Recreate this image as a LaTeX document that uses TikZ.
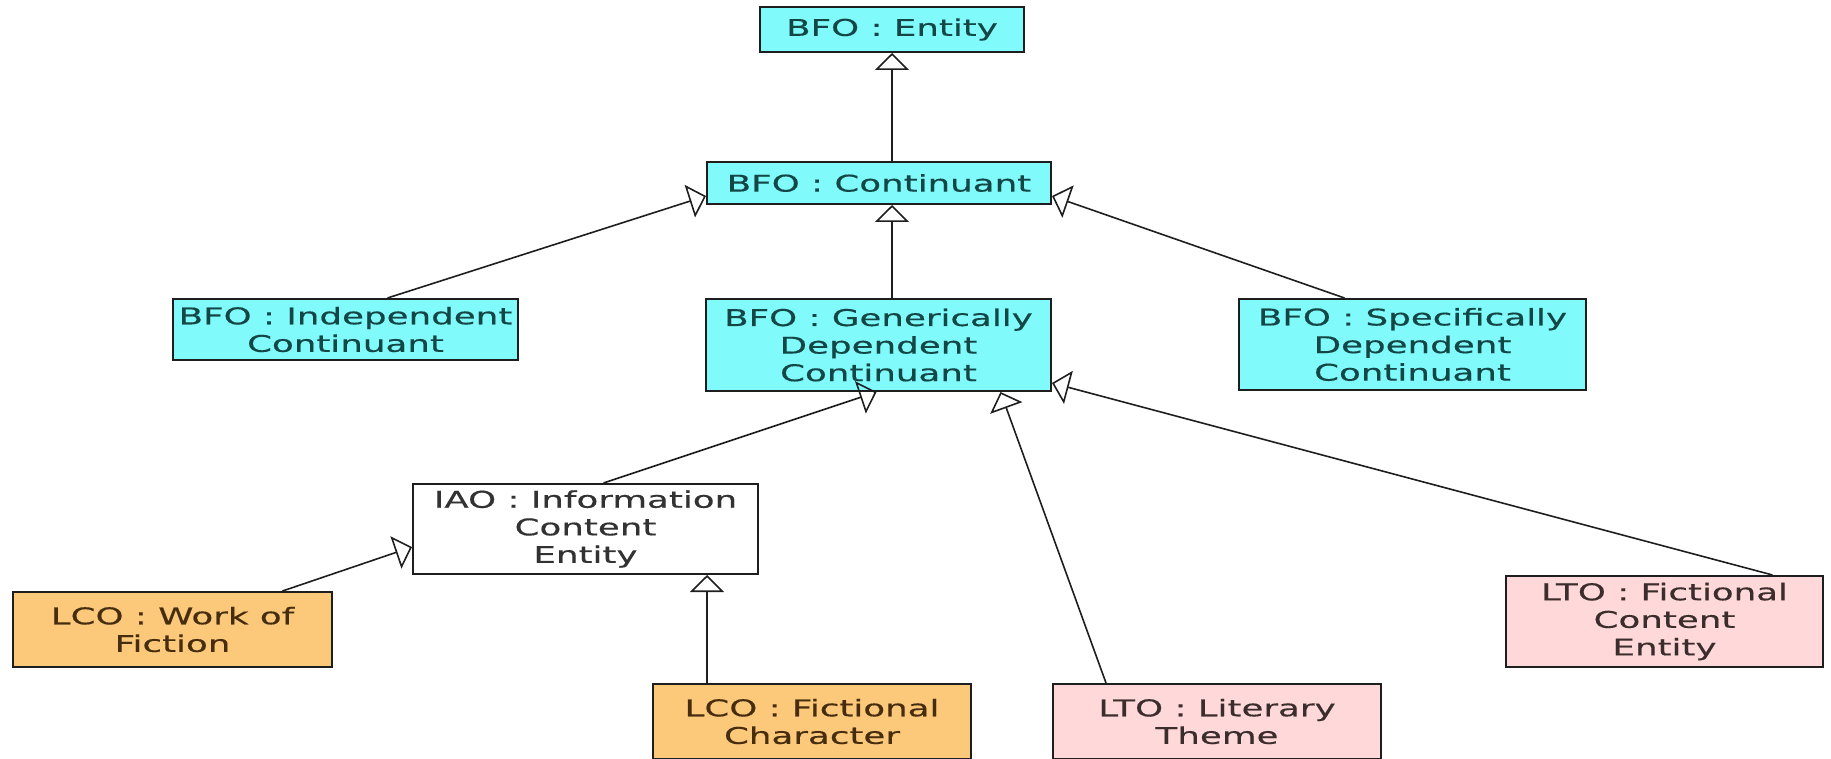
\documentclass[tikz,border=0pt]{standalone}
\usepackage{fontspec}
\setmainfont[FakeStretch=1.55, FakeBold=0.4]{DejaVu Sans}
\usetikzlibrary{arrows.meta, positioning}

\definecolor{bfofill}{RGB}{128,250,250}
\definecolor{bfotext}{RGB}{20,70,70}
\definecolor{lcofill}{RGB}{252,200,122}
\definecolor{lcotext}{RGB}{70,45,15}
\definecolor{ltofill}{RGB}{255,217,217}
\definecolor{ltotext}{RGB}{60,45,45}
\definecolor{iaotext}{RGB}{50,50,50}
\definecolor{boxline}{RGB}{30,30,30}

\begin{document}
\begin{tikzpicture}[
  x=0.5pt, y=-0.5pt,
  font=\fontsize{11.5}{13.8}\selectfont,
  isa/.style={-{Triangle[open, length=8.5pt, width=17pt]}, line width=0.8pt, draw=boxline},
  box/.style={
    draw=boxline,
    line width=1pt,
    align=center,
    inner sep=0pt
  },
  bfo/.style={box, fill=bfofill, text=bfotext},
  iao/.style={box, fill=white, text=iaotext},
  lco/.style={box, fill=lcofill, text=lcotext},
  lto/.style={box, fill=ltofill, text=ltotext}
]
\useasboundingbox (0,0) rectangle (1831,759);

% =========================
% BFO upper level
% =========================
\node[bfo, minimum width=132pt, minimum height=22.5pt] (ent) at (892,29.5)
{BFO : Entity};

\node[bfo, minimum width=172pt, minimum height=21pt] (cont) at (879,183)
{BFO : Continuant};

\node[bfo, minimum width=172.5pt, minimum height=30.5pt] (ind) at (345.5,329.5)
{BFO : Independent\\Continuant};

\node[bfo, minimum width=172.5pt, minimum height=46pt] (gdc) at (878.5,345)
{BFO : Generically\\Dependent\\Continuant};

\node[bfo, minimum width=173.5pt, minimum height=45.5pt] (sdc) at (1412.5,344.5)
{BFO : Specifically\\Dependent\\Continuant};

\draw[isa] (cont.north -| ent.south) -- (ent.south);
\draw[isa] (gdc.north -| ent.south) -- (cont.south -| ent.south);
\draw[isa] ([xshift=21pt]ind.north) -- ([yshift=-6.5pt]cont.west);
\draw[isa] ([xshift=-34pt]sdc.north) -- ([yshift=-6.5pt]cont.east);

% =========================
% IAO / LCO / LTO
% =========================
\node[iao, minimum width=172.5pt, minimum height=45pt] (ice) at (585.5,529)
{IAO : Information\\Content\\Entity};

\node[lco, minimum width=159.5pt, minimum height=37.5pt] (wof) at (172.5,629.5)
{LCO : Work of\\Fiction};

\node[lco, minimum width=159pt, minimum height=37.5pt] (fch) at (812,721.5)
{LCO : Fictional\\Character};

\node[lto, minimum width=164pt, minimum height=37.5pt] (lth) at (1217,721.5)
{LTO : Literary\\Theme};

\node[lto, minimum width=158.5pt, minimum height=45.5pt] (fce) at (1664.5,621.5)
{LTO : Fictional\\Content\\Entity};

\coordinate (fchtop) at ([xshift=-52.5pt]fch.north);

\draw[isa] ([xshift=9pt]ice.north) -- ([xshift=-1pt]gdc.south);
\draw[isa] ([xshift=-55.5pt]lth.north) -- ([xshift=61pt]gdc.south);
\draw[isa] ([xshift=54pt]fce.north) -- ([yshift=-19pt]gdc.east);
\draw[isa] ([xshift=55pt]wof.north) -- ([yshift=-9pt]ice.west);
\draw[isa] (fchtop) -- (fchtop |- ice.south);

\end{tikzpicture}
\end{document}
